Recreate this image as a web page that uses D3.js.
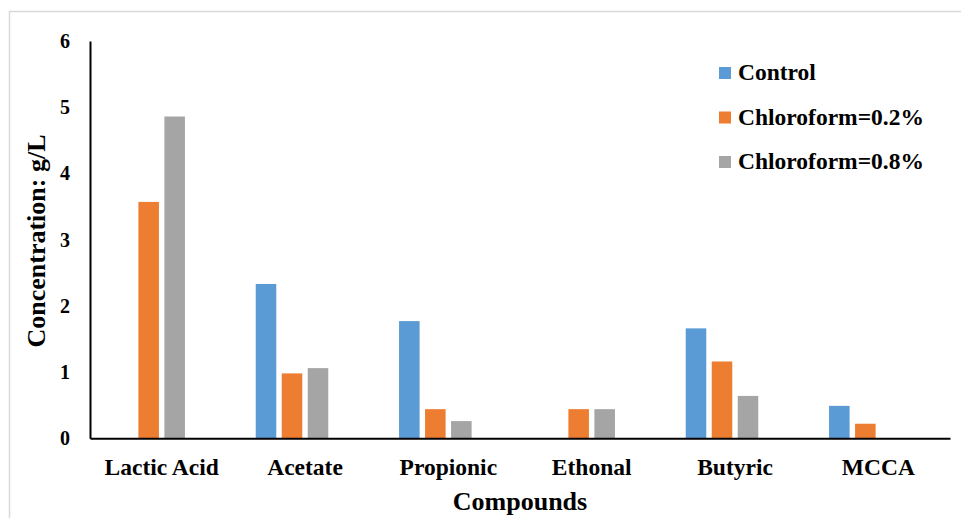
<!DOCTYPE html>
<html>
<head>
<meta charset="utf-8">
<script src="https://cdn.jsdelivr.net/npm/d3@7"></script>
<style>
  html, body { margin: 0; padding: 0; background: #fff; }
  svg { display: block; }
  svg text { font-family: "Liberation Serif", "Times New Roman", serif; font-weight: 700; }
</style>
</head>
<body>
<svg id="chart" width="961" height="518"></svg>
<script>
const categories = ["Lactic Acid", "Acetate", "Propionic", "Ethonal", "Butyric", "MCCA"];
const seriesNames = ["Control", "Chloroform=0.2%", "Chloroform=0.8%"];
const control = [0, 2.33, 1.77, 0, 1.66, 0.49];
const chloro02 = [3.57, 0.98, 0.44, 0.44, 1.16, 0.22];
const chloro08 = [4.86, 1.06, 0.26, 0.44, 0.64, 0];
const yTicks = [0, 1, 2, 3, 4, 5, 6];
const colors = ["#5B9BD5", "#ED7D31", "#A5A5A5"];
const seriesValues = [control, chloro02, chloro08];

const svg = d3.select("#chart");

// outer frame
svg.append("path")
  .attr("d", "M9.5,518 L9.5,11.5 L961,11.5")
  .attr("fill", "none").attr("stroke", "#d9d9d9").attr("stroke-width", 1.5);

const plotLeft = 90, plotRight = 950, plotTop = 41, plotBottom = 438.3;

const x0 = d3.scaleBand().domain(categories).range([plotLeft, plotRight]).padding(0);
const slotStep = 26;
// four slots per group (the fourth one is empty in the original chart)
const x1 = d3.scaleBand().domain([0, 1, 2, 3])
  .range([x0.bandwidth() / 2 - 2 * slotStep, x0.bandwidth() / 2 + 2 * slotStep])
  .paddingInner(0.21).paddingOuter(0.105);
const y = d3.scaleLinear().domain([0, 6]).range([plotBottom, plotTop]);

// bars
const rows = [];
categories.forEach((c, ci) => {
  seriesValues.forEach((vals, si) => rows.push({ c, si, v: vals[ci] }));
});
svg.append("g").selectAll("rect").data(rows.filter(d => d.v > 0)).join("rect")
  .attr("x", d => x0(d.c) + x1(d.si))
  .attr("width", x1.bandwidth())
  .attr("y", d => y(d.v))
  .attr("height", d => y(0) - y(d.v))
  .attr("fill", d => colors[d.si]);

// y axis
const yAxis = d3.axisLeft(y).tickValues(yTicks).tickSize(0).tickPadding(20).tickFormat(d3.format("d"));
const gy = svg.append("g").attr("transform", `translate(${plotLeft},0)`).call(yAxis)
  .attr("font-family", null).attr("font-size", null);
gy.select(".domain").attr("stroke", "#000").attr("stroke-width", 2);
gy.selectAll("text").style("font-size", "20px").style("font-weight", "700").attr("fill", "#000");

// x axis
const xAxis = d3.axisBottom(x0).tickSize(0).tickPadding(20);
const gx = svg.append("g").attr("transform", `translate(0,${plotBottom})`).call(xAxis)
  .attr("font-family", null).attr("font-size", null);
gx.select(".domain").attr("stroke", "#000").attr("stroke-width", 2);
gx.selectAll("text").style("font-size", "23.5px").style("font-weight", "700").attr("fill", "#000");

// axis titles
svg.append("text")
  .attr("x", 520).attr("y", 510)
  .attr("text-anchor", "middle").style("font-size", "26px")
  .text("Compounds");
svg.append("text")
  .attr("transform", "translate(45,241) rotate(-90)")
  .attr("text-anchor", "middle").style("font-size", "26px")
  .text("Concentration: g/L");

// legend
const legend = svg.append("g").attr("transform", "translate(719,80)");
const lg = legend.selectAll("g").data(seriesNames).join("g")
  .attr("transform", (d, i) => `translate(0,${i * 44.5})`);
lg.append("rect").attr("x", 0).attr("y", -13).attr("width", 12).attr("height", 12)
  .attr("fill", (d, i) => colors[i]);
lg.append("text").attr("x", 19).attr("y", 0).style("font-size", "23.5px").text(d => d);
</script>
</body>
</html>
